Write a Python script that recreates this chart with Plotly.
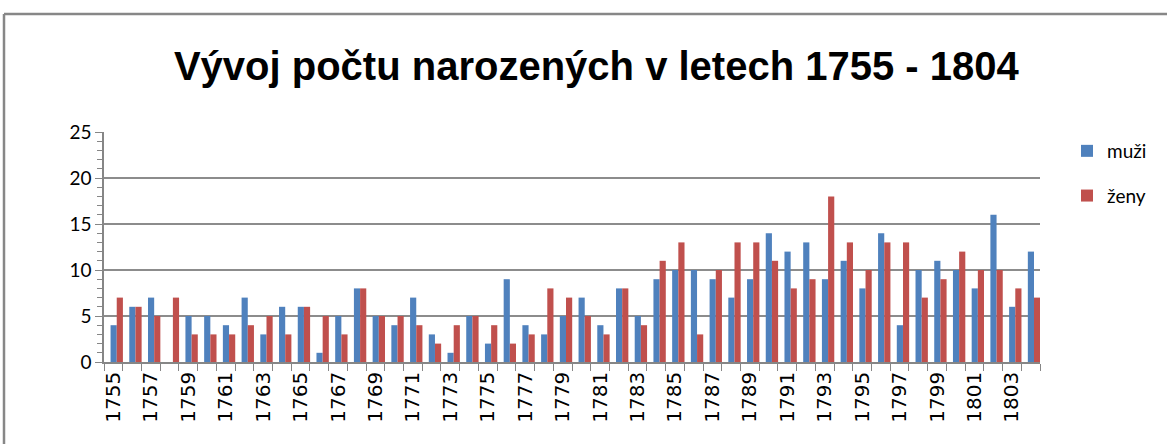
import plotly.graph_objects as go

years = list(range(1755, 1805))
muzi = [4, 6, 7, 0, 5, 5, 4, 7, 3, 6, 6, 1, 5, 8, 5, 4, 7, 3, 1, 5,
        2, 9, 4, 3, 5, 7, 4, 8, 5, 9, 10, 10, 9, 7, 9, 14, 12, 13, 9, 11,
        8, 14, 4, 10, 11, 10, 8, 16, 6, 12]
zeny = [7, 6, 5, 7, 3, 3, 3, 4, 5, 3, 6, 5, 3, 8, 5, 5, 4, 2, 4, 5,
        4, 2, 3, 8, 7, 5, 3, 8, 4, 11, 13, 3, 10, 13, 13, 11, 8, 9, 18, 13,
        10, 13, 13, 7, 9, 12, 10, 10, 8, 7]
tick_years = list(range(1755, 1805, 2))
title_text = "Vývoj počtu narozených v letech 1755 - 1804"

fig = go.Figure()
fig.add_trace(go.Bar(x=years, y=muzi, name="muži", marker_color="#4F81BD",
                     marker_line=dict(width=0), offset=-0.15, width=0.33,
                     legendgroup="a"))
fig.add_trace(go.Bar(x=years, y=zeny, name="ženy", marker_color="#C0504D",
                     marker_line=dict(width=0), offset=0.18, width=0.33,
                     legendgroup="b"))

L, R, T, B = 104, 127, 132, 82
W, H = 1167, 444
pw, ph = W - L - R, H - T - B

def px(x):
    return (x - L) / pw

def py(y):
    return (H - B - y) / ph

fig.update_layout(
    width=W, height=H,
    margin=dict(l=L, r=R, t=T, b=B, autoexpand=False),
    paper_bgcolor="white", plot_bgcolor="white",
    barmode="overlay",
    title=dict(text=title_text, x=0.511, xanchor="center", y=1 - 66 / H,
               yanchor="middle",
               font=dict(family="Liberation Sans, Arial, sans-serif",
                         size=40, color="black", weight="bold")),
    font=dict(family="Lato, sans-serif", color="black"),
    legend=dict(xref="container", yref="container",
                x=1067 / W, y=1 - 132 / H, xanchor="left", yanchor="top",
                font=dict(size=19, family="Lato, sans-serif"),
                tracegroupgap=17, bgcolor="rgba(0,0,0,0)"),
    xaxis=dict(range=[1754.5, 1804.5], tickmode="array", tickvals=tick_years,
               ticktext=[str(t) for t in tick_years], tickangle=-90,
               ticks="", showgrid=False, showline=True, linecolor="#868686",
               linewidth=1.5, automargin=False,
               tickfont=dict(family="DejaVu Sans, sans-serif", size=20),
               minor=dict(tick0=1754.5, dtick=1, ticks="outside", ticklen=7,
                          tickcolor="#868686", showgrid=False)),
    yaxis=dict(range=[0, 25], dtick=5, tick0=0, showgrid=True,
               gridcolor="#8C8C8C", gridwidth=1.5, showline=True,
               linecolor="#868686", linewidth=1.5, ticks="outside",
               ticklen=7, tickcolor="#868686", zeroline=False,
               automargin=False,
               tickfont=dict(size=19, family="Lato, sans-serif"),
               minor=dict(dtick=1, ticks="outside", ticklen=5,
                          tickcolor="#868686", showgrid=False)),
    shapes=[
        dict(type="line", xref="paper", yref="paper", x0=px(4), x1=px(1167),
             y0=py(14), y1=py(14), line=dict(color="#878787", width=2.5)),
        dict(type="line", xref="paper", yref="paper", x0=px(4), x1=px(4),
             y0=py(14), y1=py(444), line=dict(color="#878787", width=2.5)),
    ],
)

fig.write_html(
    "out.html",
    config={"displayModeBar": False, "responsive": False},
    default_width="1167px", default_height="444px",
    post_script=("document.documentElement.style.overflow='hidden';"
                 "document.body.style.overflow='hidden';"
                 "document.body.style.margin='0';document.body.style.padding='0';"),
)
